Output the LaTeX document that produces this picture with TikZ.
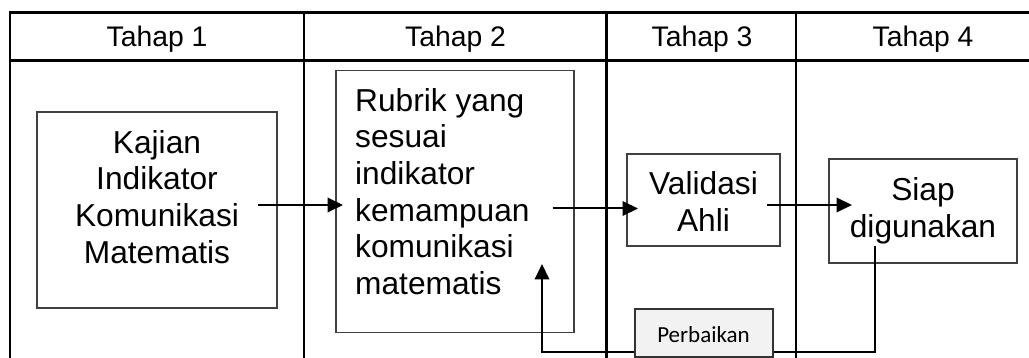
\documentclass[tikz,border=0pt]{standalone}
\usepackage{fontspec}
\setmainfont{Liberation Sans}
\newfontfamily\notefont{Carlito}
\usetikzlibrary{arrows.meta}
\begin{document}
\begin{tikzpicture}[x=1pt,y=-1pt,
  grid/.style={line width=2.2pt, black},
  stagebox/.style={draw=black!75, line width=1.1pt, inner sep=0pt},
  head/.style={font=\fontsize{28.3}{33}\selectfont, inner sep=0pt, anchor=base},
  body/.style={font=\fontsize{31.7}{36.7}\selectfont, inner sep=0pt, anchor=north, align=center},
  bodyleft/.style={body, anchor=north west, align=left},
  tip/.style={-{Triangle[length=15.5pt,width=14.5pt]}},
  flow/.style={line width=2pt, tip},
  loopline/.style={line width=2pt},
  notebox/.style={draw=black!80, fill=black!5, line width=1.1pt, inner sep=0pt,
    minimum width=138pt, minimum height=48pt}]
\useasboundingbox (0,0) rectangle (1029,358);
\clip (0,0) rectangle (1029,358);

% table frame
\draw[grid] (10,358) -- (10,12.5) -- (1040,12.5);
\draw[grid] (10,60.5) -- (1040,60.5);
\draw[grid] (304,12.5) -- (304,358);
\draw[grid] (606.5,12.5) -- (606.5,358);
\draw[grid] (796,12.5) -- (796,358);

% column headings
\node[head] (h1) at (157,46.7) {Tahap 1};
\node[head] (h2) at (455.5,46.7) {Tahap 2};
\node[head] (h3) at (702,46.7) {Tahap 3};
\node[head] (h4) at (923,46.7) {Tahap 4};

% stage boxes
\node[stagebox, minimum width=240pt, minimum height=196pt] (kajian) at (157,210) {};
\node[stagebox, minimum width=238pt, minimum height=261.7pt] (rubrik) at (455,201.8) {};
\node[stagebox, minimum width=153pt, minimum height=92pt] (validasi) at (703.5,200) {};
\node[stagebox, minimum width=188pt, minimum height=104pt] (siap) at (923,211) {};

\node[body] (kajiantext) at (157,130) {Kajian\\Indikator\\Komunikasi\\Matematis};
\node[bodyleft] (rubriktext) at (355,88) {Rubrik yang\\sesuai\\indikator\\kemampuan\\komunikasi\\matematis};
\node[body] (validasitext) at (703.5,171.7) {Validasi\\Ahli};
\node[body] (siaptext) at (923,177.3) {Siap\\digunakan};

% forward arrows
\coordinate (a1s) at (258,205);
\coordinate (a1e) at (343,205);
\coordinate (a2s) at (552.6,208.5);
\coordinate (a2e) at (638,208.5);
\coordinate (a3s) at (767,205);
\coordinate (a3e) at (852,205);
\draw[flow] (a1s) -- (a1e);
\draw[flow] (a2s) -- (a2e);
\draw[flow] (a3s) -- (a3e);

% revision loop
\coordinate (fbs) at (875,246);
\coordinate (fbr) at (875,352);
\coordinate (fbl) at (542,352);
\coordinate (fbe) at (542,264);
\draw[loopline, tip] (fbs) -- (fbr) -- (fbl) -- (fbe);
\node[notebox] (perbaikan) at (704,333) {};
\node[font=\notefont\fontsize{23}{27}\selectfont, inner sep=0pt, anchor=base] (perbaikantext) at (703.5,342.7) {Perbaikan};
\end{tikzpicture}
\end{document}
